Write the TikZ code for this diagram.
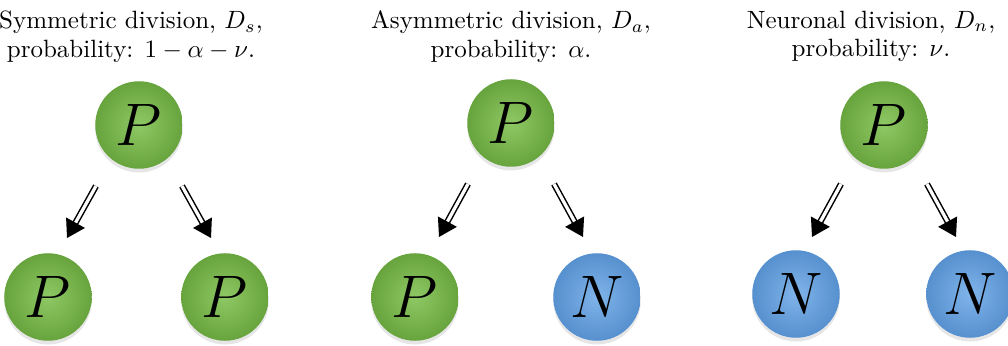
\RequirePackage{fix-cm}
\documentclass[tikz,border=0pt]{standalone}
\usepackage{amsmath,amssymb}
\usepackage{xcolor}
\usepackage{tikz}
\usetikzlibrary{arrows.meta,shadows}

\definecolor{cellgreenI}{RGB}{142,200,100}
\definecolor{cellgreenO}{RGB}{104,164,62}
\definecolor{cellblueI}{RGB}{128,180,234}
\definecolor{cellblueO}{RGB}{86,144,206}

\begin{document}
\begin{tikzpicture}[x=0.4pt,y=-0.4pt,line join=round,
  cell/.style={circle,minimum size=35pt,inner sep=0pt,font=\fontsize{24}{24}\selectfont,
    drop shadow={opacity=0.2,shadow xshift=0pt,shadow yshift=-1.5pt}},
  pcell/.style={cell,inner color=cellgreenI,outer color=cellgreenO},
  ncell/.style={cell,inner color=cellblueI,outer color=cellblueO},
  splitarrow/.style={double,double distance=1.3pt,line width=0.6pt,
    -{Triangle[length=7pt,width=8.5pt]}},
  caption/.style={align=center,font=\fontsize{10}{11.5}\selectfont}]
  \useasboundingbox (0,0) rectangle (1008,346);
  % captions
  \node[caption,anchor=north] (Ts) at (131,2) {Symmetric division, $D_s$,\\probability: $1-\alpha-\nu$.};
  \node[caption,anchor=north] (Ta) at (511,2) {Asymmetric division, $D_a$,\\probability: $\alpha$.};
  \node[caption,anchor=north] (Tn) at (871,2) {Neuronal division, $D_n$,\\probability: $\nu$.};
  % mother cells
  \node[pcell] (Ps) at (139,125) {$P$};
  \node[pcell] (Pa) at (511,123) {$P$};
  \node[pcell] (Pn) at (884,125) {$P$};
  % daughter cells
  \node[pcell] (Ps1) at (48,297) {$P$};
  \node[pcell] (Ps2) at (225,297) {$P$};
  \node[pcell] (Pa1) at (415,297) {$P$};
  \node[ncell] (Na2) at (597,297) {$N$};
  \node[ncell] (Nn1) at (796,294) {$N$};
  \node[ncell] (Nn2) at (970,294) {$N$};
  % arrow ends
  \coordinate (Ls0) at (96,186);
  \coordinate (Ls1) at (67,238);
  \coordinate (Rs0) at (182,186);
  \coordinate (Rs1) at (211,238);
  \coordinate (La0) at (468,184);
  \coordinate (La1) at (439,237);
  \coordinate (Ra0) at (554,184);
  \coordinate (Ra1) at (583,237);
  \coordinate (Ln0) at (841,184);
  \coordinate (Ln1) at (812,237);
  \coordinate (Rn0) at (927,184);
  \coordinate (Rn1) at (956,237);
  \draw[splitarrow] (Ls0) -- (Ls1);
  \draw[splitarrow] (Rs0) -- (Rs1);
  \draw[splitarrow] (La0) -- (La1);
  \draw[splitarrow] (Ra0) -- (Ra1);
  \draw[splitarrow] (Ln0) -- (Ln1);
  \draw[splitarrow] (Rn0) -- (Rn1);
\end{tikzpicture}
\end{document}
